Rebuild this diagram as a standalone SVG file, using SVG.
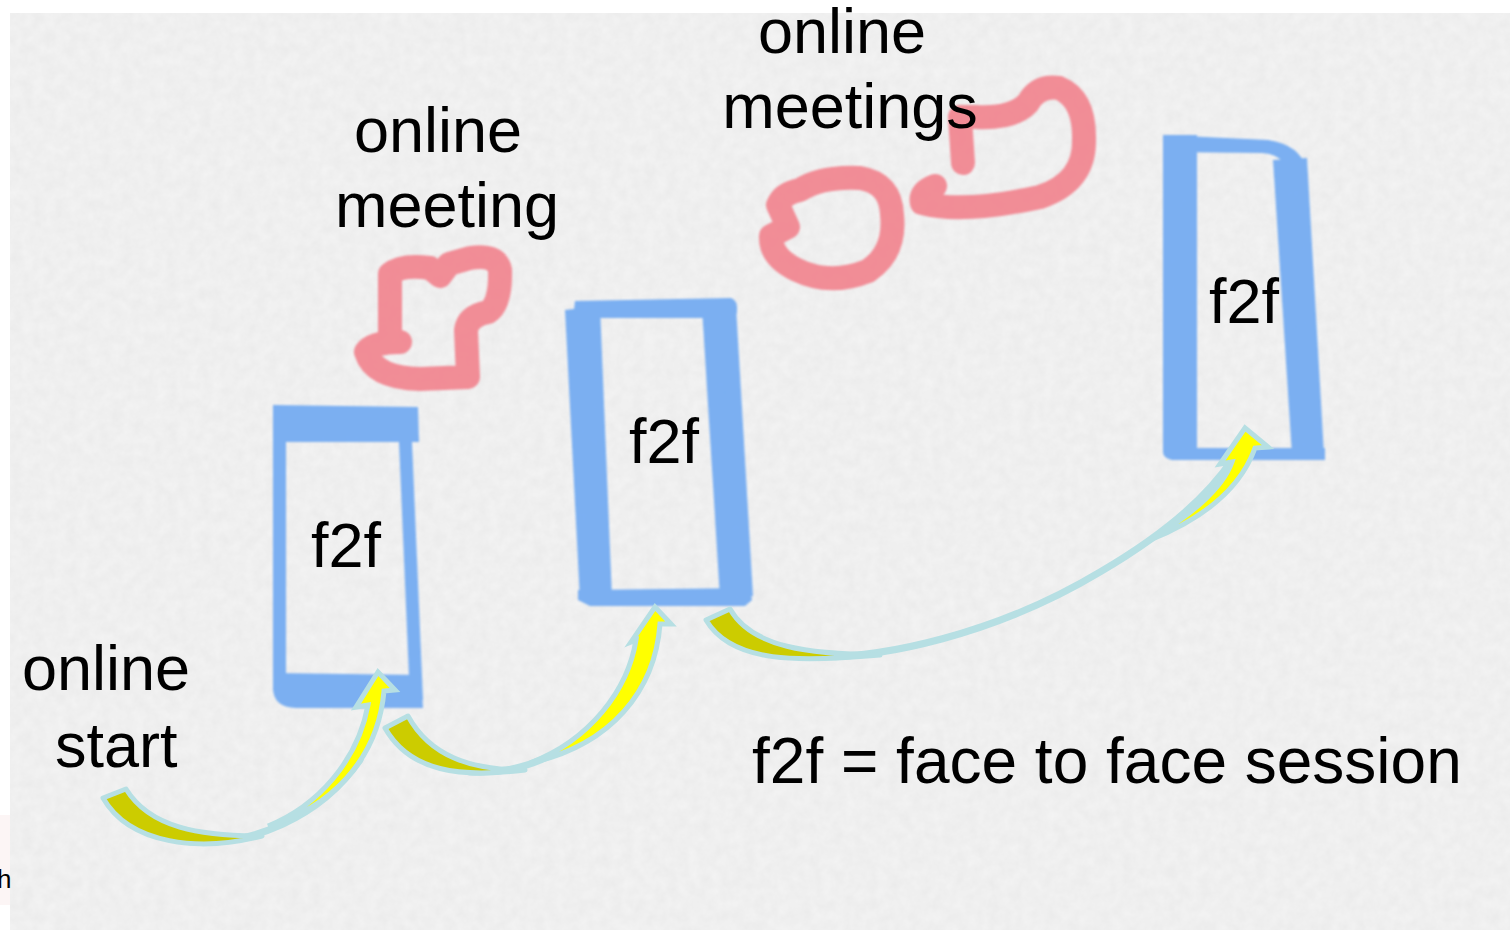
<svg xmlns="http://www.w3.org/2000/svg" width="1510" height="930" viewBox="0 0 1510 930">
<style>
.t{font-family:"Liberation Sans",Arial,Helvetica,sans-serif;font-size:63px;fill:#000}
.blue{fill:#74acf2;stroke:none}
.pink{fill:none;stroke:#f27c87;stroke-width:24;stroke-linecap:round;stroke-linejoin:round;opacity:0.85}
.olive{fill:#cccc00;stroke:#b6dfe3;stroke-width:5;stroke-linejoin:round}
.yel{fill:#ffff00;stroke:#b6dfe3;stroke-width:5;stroke-linejoin:miter}
.band{fill:none;stroke:#b6dfe3;stroke-width:7;stroke-linecap:round}
</style>
<defs>
<filter id="paper" x="0" y="0" width="100%" height="100%">
<feTurbulence type="fractalNoise" baseFrequency="0.09" numOctaves="3" seed="4"/>
<feColorMatrix type="matrix" values="0 0 0 0 0  0 0 0 0 0  0 0 0 0 0  0.04 0 0 0 0"/>
</filter>
<filter id="soft" x="-30%" y="-30%" width="160%" height="160%">
<feGaussianBlur stdDeviation="1.1"/>
</filter>
</defs>
<rect width="1510" height="930" fill="#ffffff"/>
<rect x="10" y="13" width="1500" height="917" fill="#f4f4f4"/>
<rect x="10" y="13" width="1500" height="917" filter="url(#paper)"/>
<rect x="0" y="815" width="10" height="90" fill="#fcf5f5"/>
<text class="t" x="-3" y="888" style="font-size:26px">h</text>

<g id="node-f2f-1">
<g filter="url(#soft)" opacity="0.95">
<path class="blue" d="M273 405 L418 407 L419 442 L273 442 Z"/>
<path class="blue" d="M273 410 L286 410 L286 695 L273 690 Z"/>
<path class="blue" d="M399 442 L412 442 L423 700 L410 700 Z"/>
<path class="blue" d="M273 673 L421 675 L423 708 L296 708 Q273 707 273 688 Z"/>
</g>
<text class="t" x="311" y="567">f2f</text>
</g>

<g id="node-f2f-2">
<g filter="url(#soft)" opacity="0.95">
<path class="blue" d="M565 310 L600 306 L612 598 L580 600 Z"/>
<path class="blue" d="M575 301 L731 298 Q738 300 737 312 L735 318 L573 318 Z"/>
<path class="blue" d="M702 308 L736 306 L753 596 L720 598 Z"/>
<path class="blue" d="M578 590 L750 588 L752 600 L745 606 L590 606 L578 600 Z"/>
</g>
<text class="t" x="629" y="463">f2f</text>
</g>

<g id="node-f2f-3">
<g filter="url(#soft)" opacity="0.95">
<path class="blue" d="M1163 135 L1197 135 L1197 455 L1163 452 Z"/>
<path class="blue" d="M1163 135 L1268 140 Q1300 145 1306 168 L1290 172 Q1282 154 1262 153 L1163 152 Z"/>
<path class="blue" d="M1273 160 L1307 158 L1324 455 L1292 455 Z"/>
<path class="blue" d="M1163 448 L1325 448 L1325 460 L1172 460 Q1163 458 1163 452 Z"/>
</g>
<text class="t" x="1209" y="323">f2f</text>
</g>

<g id="node-online-meeting">
<path class="pink" filter="url(#soft)" d="M400 342 Q372 342 366 352 Q374 378 420 379 L468 377 L466 330 Q468 316 488 312 Q501 304 500 270 Q497 254 470 258 L449 264 L440 276 L430 268 Q402 264 390 274 L390 342"/>
<text class="t" x="438" y="152" text-anchor="middle">online</text>
<text class="t" x="447" y="227" text-anchor="middle">meeting</text>
</g>

<g id="node-online-meetings">
<path class="pink" filter="url(#soft)" d="M800 190 Q822 176 860 178 Q891 183 892 215 Q896 252 868 271 Q830 286 797 270 Q770 257 771 236 L788 227 L778 205 Q783 193 800 190 Z"/>
<path class="pink" filter="url(#soft)" d="M935 186 Q919 192 922 203 Q962 214 1040 197 Q1085 182 1084 140 Q1085 99 1059 88 Q1038 85 1028 103 Q1013 119 976 117 L960 117 L963 163"/>
<text class="t" x="842" y="53" text-anchor="middle">online</text>
<text class="t" x="850" y="128" text-anchor="middle">meetings</text>
</g>

<g id="node-online-start">
<text class="t" x="22" y="690">online</text>
<text class="t" x="55" y="767">start</text>
</g>

<g id="legend">
<text class="t" x="752" y="783" style="font-size:64px">f2f = face to face session</text>
</g>

<g id="connectors">
<g id="arrow-1">
<path class="band" d="M190 842 C250 846 320 818 360 760"/>
<path class="olive" d="M103 798 C130 845 200 852 262 836 C200 836 150 828 126 789 Z"/>
<path class="yel" d="M268 826 C318 806 358 760 368 705 L356 707 L378 672 L395 690 L384 691 C378 760 330 808 268 826 Z"/>
</g>
<g id="arrow-2">
<path class="band" d="M470 772 C530 776 600 740 632 680"/>
<path class="olive" d="M385 728 C410 772 460 778 525 770 C470 770 430 756 408 716 Z"/>
<path class="yel" d="M530 763 C590 740 628 690 636 640 L631 642 L655 607 L671 624 L660 624 C655 690 612 745 530 763 Z"/>
</g>
<g id="arrow-3">
<path class="band" d="M800 656 C880 662 1000 632 1100 572 C1160 537 1205 500 1232 460"/>
<path class="olive" d="M706 620 C732 664 800 662 880 655 C810 654 752 648 730 609 Z"/>
<path class="yel" d="M1150 540 C1190 515 1222 490 1232 462 L1220 464 L1245 428 L1268 447 L1255 448 C1240 490 1200 520 1150 540 Z"/>
</g>
</g>
</svg>
